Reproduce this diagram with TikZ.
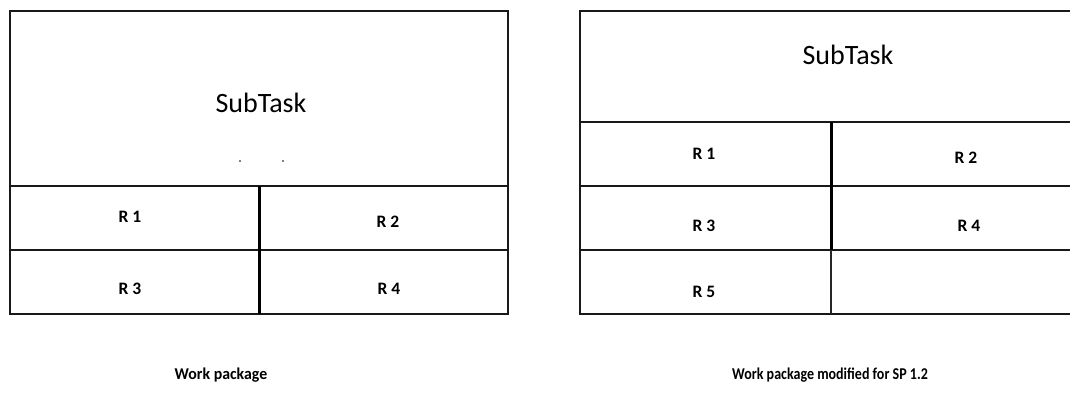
\documentclass[tikz,border=0pt]{standalone}
\usepackage{fontspec}
\setmainfont{Carlito}
\begin{document}
\begin{tikzpicture}[x=1pt,y=-1pt,
  frame/.style={line width=2pt,draw=black!90},
  divider/.style={line width=3pt,draw=black},
  thindiv/.style={line width=1.2pt,draw=black!85},
  title/.style={font=\fontsize{28}{30}\selectfont,inner sep=0pt},
  cell/.style={font=\fontsize{17.5}{19}\selectfont\bfseries,inner sep=0pt},
  caption/.style={font=\fontsize{16.5}{18}\selectfont\bfseries,inner sep=0pt}]
\useasboundingbox (0,0) rectangle (1070,399);

% Work package
\draw[frame] (9.5,11) rectangle (508,314);
\draw[frame] (9.5,185.5) -- (508,185.5);
\draw[frame] (9.5,250) -- (508,250);
\draw[divider] (259,185.5) -- (259,314);
\node[title] (st1) at (261,103) {SubTask};
\fill (240,161) circle (0.8);
\fill (283,161) circle (0.8);
\node[cell] (a1) at (130,217) {R 1};
\node[cell] (a2) at (388,222) {R 2};
\node[cell] (a3) at (130,289) {R 3};
\node[cell] (a4) at (389,289) {R 4};

% Work package modified for SP 1.2
\draw[frame] (1071,11) -- (580,11) -- (580,314) -- (1071,314);
\draw[frame] (580,122) -- (1071,122);
\draw[frame] (580,186) -- (1071,186);
\draw[frame] (580,250) -- (1071,250);
\draw[divider] (831,122) -- (831,250);
\draw[thindiv] (831,250) -- (831,314);
\node[title] (st2) at (848,55) {SubTask};
\node[cell] (b1) at (704,154) {R 1};
\node[cell] (b2) at (966,158) {R 2};
\node[cell] (b3) at (704,226) {R 3};
\node[cell] (b4) at (969,226) {R 4};
\node[cell] (b5) at (704,292) {R 5};

% captions
\node[caption,xscale=0.96] (c1) at (221,375) {Work package};
\node[caption,xscale=0.85] (c2) at (830,375) {Work package modified for SP 1.2};
\end{tikzpicture}
\end{document}
